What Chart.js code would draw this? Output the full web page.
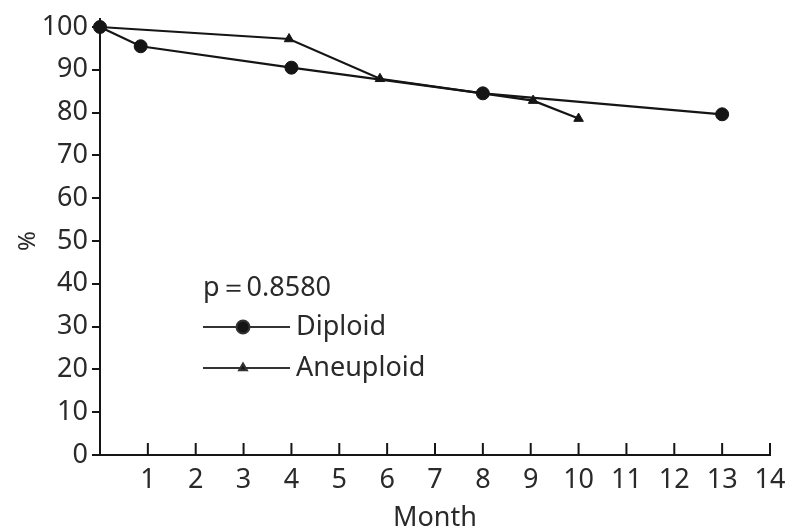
<!DOCTYPE html>
<html>
<head>
<meta charset="utf-8">
<script src="https://cdn.jsdelivr.net/npm/chart.js@4.4.1/dist/chart.umd.min.js"></script>
<style>
  html, body { margin: 0; padding: 0; background: #fff; }
  #wrap { width: 787px; height: 530px; }
</style>
</head>
<body>
<div id="wrap"><canvas id="survChart"></canvas></div>
<script>
const diploidMonths = [0, 0.85, 4, 8, 13];
const diploidPct = [100, 95.5, 90.5, 84.5, 79.6];
const aneuploidMonths = [0, 3.95, 5.85, 9.05, 10];
const aneuploidPct = [100, 97.2, 87.9, 82.8, 78.6];
const xTickValues = [1, 2, 3, 4, 5, 6, 7, 8, 9, 10, 11, 12, 13, 14];
const yTickValues = [0, 10, 20, 30, 40, 50, 60, 70, 80, 90, 100];
const seriesNames = ['Diploid', 'Aneuploid'];
const pText = 'p\uFF1D0.8580';

const INK = '#151515';
const TEXT = '#2a2a2a';
const FONT = '"Noto Sans", "Liberation Sans", sans-serif';

function toPoints(xs, ys) {
  return xs.map((x, i) => ({ x: x, y: ys[i] }));
}

// ─── Axis extras: inward x ticks, y axis stub above 100 ──────
const axisExtras = {
  id: 'axisExtras',
  afterDraw(chart) {
    const { ctx, chartArea } = chart;
    const xs = chart.scales.x;
    ctx.save();
    ctx.strokeStyle = INK;
    ctx.lineWidth = 2;
    ctx.beginPath();
    xTickValues.forEach(v => {
      const px = xs.getPixelForValue(v);
      ctx.moveTo(px, chartArea.bottom);
      ctx.lineTo(px, chartArea.bottom - 12);
    });
    ctx.moveTo(chartArea.left, chartArea.top);
    ctx.lineTo(chartArea.left, chartArea.top - 9);
    ctx.stroke();
    ctx.restore();
  }
};

// ─── Legend drawn inside the plot ────────────────────────────
const innerLegend = {
  id: 'innerLegend',
  afterDraw(chart) {
    const { ctx } = chart;
    ctx.save();
    ctx.font = '27px ' + FONT;
    ctx.fillStyle = TEXT;
    ctx.textBaseline = 'middle';
    ctx.textAlign = 'left';
    ctx.fillText(pText, 203, 288);

    const rows = [
      { y: 327, style: 'circle', r: 6.5 },
      { y: 368, style: 'triangle', r: 4.5 }
    ];
    rows.forEach((row, i) => {
      ctx.strokeStyle = '#333';
      ctx.lineWidth = 2;
      ctx.beginPath();
      ctx.moveTo(203, row.y);
      ctx.lineTo(290, row.y);
      ctx.stroke();
      ctx.fillStyle = INK;
      Chart.helpers.drawPoint(ctx, { pointStyle: row.style, radius: row.r, borderWidth: 1 }, 243, row.y);
      ctx.fillStyle = TEXT;
      ctx.fillText(seriesNames[i], 296, row.y);
    });
    ctx.restore();
  }
};

new Chart(document.getElementById('survChart'), {
  type: 'scatter',
  data: {
    datasets: [
      {
        label: seriesNames[0],
        data: toPoints(diploidMonths, diploidPct),
        showLine: true,
        clip: false,
        borderColor: INK,
        backgroundColor: INK,
        borderWidth: 2.2,
        pointStyle: 'circle',
        pointRadius: 6.5,
        pointBorderWidth: 1
      },
      {
        label: seriesNames[1],
        data: toPoints(aneuploidMonths, aneuploidPct),
        showLine: true,
        clip: false,
        borderColor: INK,
        backgroundColor: INK,
        borderWidth: 2.2,
        pointStyle: 'triangle',
        pointRadius: 5.5,
        pointBorderWidth: 1
      }
    ]
  },
  options: {
    responsive: true,
    maintainAspectRatio: false,
    animation: false,
    layout: { autoPadding: false, padding: { top: 27, right: 17, left: 0, bottom: 0 } },
    plugins: { legend: { display: false }, tooltip: { enabled: false } },
    scales: {
      x: {
        type: 'linear',
        min: 0,
        max: 14,
        afterBuildTicks: s => { s.ticks = xTickValues.map(v => ({ value: v })); },
        afterFit: s => { s.height = 75; s.paddingLeft = 0; s.paddingRight = 0; },
        grid: { display: true, drawOnChartArea: false, drawTicks: false },
        border: { display: true, color: INK, width: 2 },
        ticks: { color: TEXT, font: { family: FONT, size: 27 }, padding: 9, maxRotation: 0, autoSkip: false },
        title: { display: true, text: 'Month', color: TEXT, font: { family: FONT, size: 27 }, padding: { top: 0, bottom: -5 } }
      },
      y: {
        min: 0,
        max: 100,
        afterBuildTicks: s => { s.ticks = yTickValues.map(v => ({ value: v })); },
        afterFit: s => { s.width = 100; s.paddingTop = 0; s.paddingBottom = 0; },
        grid: { display: true, drawOnChartArea: false, drawTicks: true, tickLength: 8, color: INK, lineWidth: 2 },
        border: { display: true, color: INK, width: 2 },
        ticks: { color: TEXT, font: { family: FONT, size: 27 }, padding: 4, autoSkip: false },
        title: { display: true, text: '%', color: TEXT, font: { family: FONT, size: 24 }, padding: { top: 14, bottom: 0 } }
      }
    }
  },
  plugins: [axisExtras, innerLegend]
});
</script>
</body>
</html>
